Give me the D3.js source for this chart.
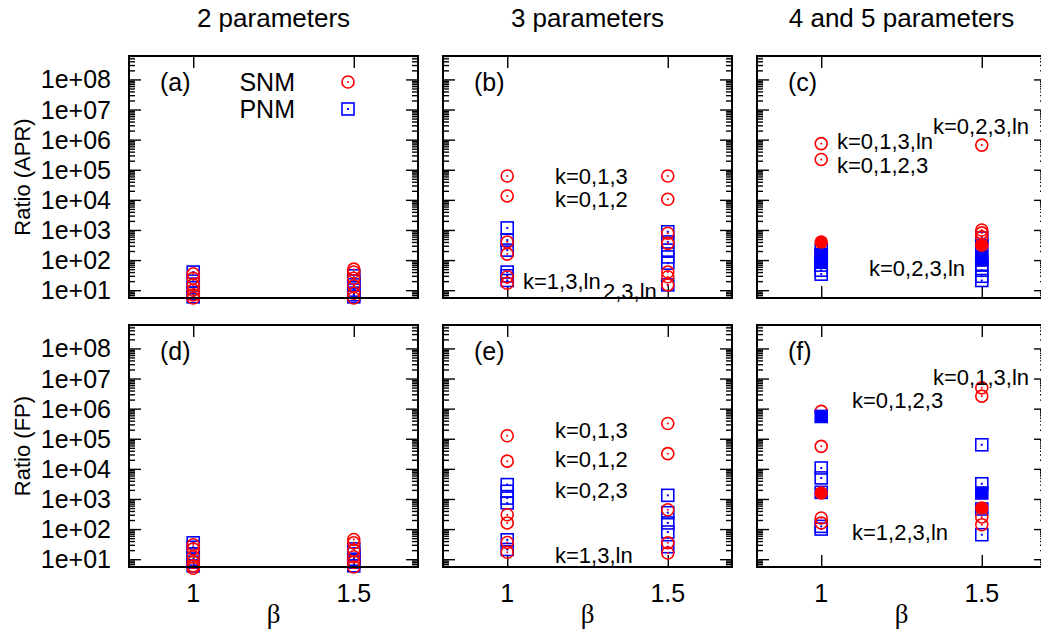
<!DOCTYPE html>
<html><head><meta charset="utf-8">
<script src="https://cdn.jsdelivr.net/npm/d3@7"></script>
<style>
body{margin:0;background:#fff;}
svg{display:block;}
text{font-family:"Liberation Sans",Arial,sans-serif;}
</style></head>
<body>
<svg id="chart" width="1041" height="633"></svg>
<script>
// ---- data ----
const columnTitles = ["2 parameters", "3 parameters", "4 and 5 parameters"];
const rowTitles = ["Ratio (APR)", "Ratio (FP)"];
const panelLabels = ["(a)", "(b)", "(c)", "(d)", "(e)", "(f)"];
const xTicks = [1, 1.5];
const xTickLabels = ["1", "1.5"];
const yTicks = [1e1, 1e2, 1e3, 1e4, 1e5, 1e6, 1e7, 1e8];
const yTickLabels = ["1e+01", "1e+02", "1e+03", "1e+04", "1e+05", "1e+06", "1e+07", "1e+08"];
const xLabel = "β";
const legendNames = ["SNM", "PNM"];

// points: [beta, value]
const snmA = [[1,35],[1,25],[1,15],[1,10],[1,7],[1,5.5],[1.5,50],[1.5,40],[1.5,25],[1.5,14],[1.5,8],[1.5,5.5]];
const pnmA = [[1,40],[1,20],[1,12],[1,8],[1,6],[1.5,30],[1.5,20],[1.5,15],[1.5,10],[1.5,7],[1.5,6]];

const snmB = [[1,6.2e4],[1,1.35e4],[1,400],[1,158],[1,28],[1,17],[1.5,6.2e4],[1.5,1.05e4],[1.5,780],[1.5,360],[1.5,40],[1.5,28],[1.5,15]];
const pnmB = [[1,1170],[1,460],[1,214],[1,40],[1,30],[1,21],[1.5,870],[1.5,400],[1.5,214],[1.5,127],[1.5,79],[1.5,15]];

const snmC = [[1,7.4e5],[1,2.2e5],[1,180],[1,150],[1.5,6.6e5],[1.5,1000],[1.5,800],[1.5,590]];
const pnmC = [[1,214],[1,145],[1,100],[1,68],[1,46],[1,34],[1.5,540],[1.5,310],[1.5,68],[1.5,46],[1.5,29],[1.5,21]];
const snmFilledC = [[1,400],[1.5,310]];
const pnmFilledC = [[1,150],[1,90],[1.5,127],[1.5,100]];

const snmD = [[1,30],[1,22],[1,12],[1,8],[1,6],[1,5],[1.5,45],[1.5,35],[1.5,20],[1.5,12],[1.5,8],[1.5,5.5]];
const pnmD = [[1,35],[1,25],[1,15],[1,10],[1,8],[1,6],[1.5,22],[1.5,15],[1.5,10],[1.5,8],[1.5,6]];

const snmE = [[1,1.26e5],[1,1.8e4],[1,300],[1,160],[1,36],[1,17],[1.5,3.2e5],[1.5,3.2e4],[1.5,440],[1.5,35],[1.5,16]];
const pnmE = [[1,3000],[1,1800],[1,1070],[1,740],[1,44],[1,21],[1.5,1320],[1.5,350],[1.5,160],[1.5,80],[1.5,26]];

const snmF = [[1,8.1e5],[1,5.6e4],[1,234],[1,160],[1.5,4.9e6],[1.5,2.6e6],[1.5,253],[1.5,140]];
const pnmF = [[1,1.07e4],[1,5000],[1,1660],[1,123],[1,100],[1.5,6.3e4],[1.5,3200],[1.5,465],[1.5,65]];
const snmFilledF = [[1,1580],[1.5,500]];
const pnmFilledF = [[1,5.5e5],[1.5,1580]];

const annotB = [["k=0,1,3",555,176],["k=0,1,2",555,199],["k=1,3,ln",523,281],["2,3,ln",603,291]];
const annotC = [["k=0,1,3,ln",837,141],["k=0,1,2,3",837,165],["k=0,2,3,ln",933,126],["k=0,2,3,ln",869,268]];
const annotE = [["k=0,1,3",555,430],["k=0,1,2",555,459],["k=0,2,3",555,490],["k=1,3,ln",555,555]];
const annotF = [["k=0,1,3,ln",933,377],["k=0,1,2,3",852,400],["k=1,2,3,ln",852,532]];

// ---- layout ----
const svg = d3.select("#chart");
const W = 289, H = 242;
const lefts = [129, 443, 757];
const tops = [56, 325];
const FS = 22, TFS = 25, HFS = 26;
const red = "#ff0000", blue = "#0000ff";

const x = d3.scaleLinear().domain([0.8, 1.7]).range([0, W]);
const y = d3.scaleLog().domain([5.5, 6e8]).range([H, 0]);

const minorTicks = [];
for (let e = 0; e <= 8; e++) for (let m = 2; m <= 9; m++) {
  const v = m * Math.pow(10, e);
  if (v >= 5.5 && v <= 6e8) minorTicks.push(v);
}

const panels = [
  {snm: snmA, pnm: pnmA, snmF: [], pnmF: [], ann: []},
  {snm: snmB, pnm: pnmB, snmF: [], pnmF: [], ann: annotB},
  {snm: snmC, pnm: pnmC, snmF: snmFilledC, pnmF: pnmFilledC, ann: annotC},
  {snm: snmD, pnm: pnmD, snmF: [], pnmF: [], ann: []},
  {snm: snmE, pnm: pnmE, snmF: [], pnmF: [], ann: annotE},
  {snm: snmF, pnm: pnmF, snmF: snmFilledF, pnmF: pnmFilledF, ann: annotF}
];

function drawCircle(g, cx, cy, filled) {
  if (filled) {
    g.append("circle").attr("cx", cx).attr("cy", cy).attr("r", 6.8).attr("fill", red);
  } else {
    g.append("circle").attr("cx", cx).attr("cy", cy).attr("r", 6).attr("fill", "none")
      .attr("stroke", red).attr("stroke-width", 1.6);
    g.append("circle").attr("cx", cx).attr("cy", cy).attr("r", 1).attr("fill", red);
  }
}
function drawSquare(g, cx, cy, filled) {
  const s = 12;
  if (filled) {
    g.append("rect").attr("x", cx - 6.8).attr("y", cy - 6.8).attr("width", 13.6).attr("height", 13.6).attr("fill", blue);
  } else {
    g.append("rect").attr("x", cx - s/2).attr("y", cy - s/2).attr("width", s).attr("height", s)
      .attr("fill", "none").attr("stroke", blue).attr("stroke-width", 1.6);
    g.append("rect").attr("x", cx - 1).attr("y", cy - 1).attr("width", 2).attr("height", 2).attr("fill", blue);
  }
}

panels.forEach((p, i) => {
  const col = i % 3, row = Math.floor(i / 3);
  const g = svg.append("g").attr("transform", `translate(${lefts[col]},${tops[row]})`);

  const axL = d3.axisRight(y).tickValues(yTicks).tickSize(12).tickFormat("");
  const axLm = d3.axisRight(y).tickValues(minorTicks).tickSize(6).tickFormat("");
  const axR = d3.axisLeft(y).tickValues(yTicks).tickSize(12).tickFormat("");
  const axRm = d3.axisLeft(y).tickValues(minorTicks).tickSize(6).tickFormat("");
  const axT = d3.axisBottom(x).tickValues(xTicks).tickSize(12).tickFormat("");
  const axB = d3.axisTop(x).tickValues(xTicks).tickSize(12).tickFormat("");
  [[axL, 0, 0], [axLm, 0, 0], [axR, W, 0], [axRm, W, 0], [axT, 0, 0], [axB, 0, H]].forEach(([a, tx, ty]) => {
    const ag = g.append("g").attr("transform", `translate(${tx},${ty})`).call(a);
    ag.select(".domain").remove();
    ag.selectAll("line").attr("stroke", "#000").attr("stroke-width", 1.4);
  });

  if (col === 0) {
    yTicks.forEach((v, k) => {
      g.append("text").attr("x", -18).attr("y", y(v)).attr("dy", "0.36em")
        .attr("text-anchor", "end").attr("font-size", TFS).text(yTickLabels[k]);
    });
  }
  if (row === 1) {
    xTicks.forEach((v, k) => {
      g.append("text").attr("x", x(v)).attr("y", H + 35).attr("text-anchor", "middle")
        .attr("font-size", TFS).text(xTickLabels[k]);
    });
    g.append("text").attr("x", W / 2).attr("y", H + 56).attr("text-anchor", "middle")
      .attr("font-size", 27).style("font-family", "'Liberation Serif','DejaVu Serif',serif").text(xLabel);
  }

  g.append("text").attr("x", 31).attr("y", 26).attr("dy", "0.36em").attr("font-size", TFS).text(panelLabels[i]);

  p.pnm.forEach(d => drawSquare(g, x(d[0]), y(d[1]), false));
  p.snm.forEach(d => drawCircle(g, x(d[0]), y(d[1]), false));
  p.pnmF.forEach(d => drawSquare(g, x(d[0]), y(d[1]), true));
  p.snmF.forEach(d => drawCircle(g, x(d[0]), y(d[1]), true));

  g.append("rect").attr("x", 0).attr("y", 0).attr("width", W).attr("height", H)
    .attr("fill", "none").attr("stroke", "#000").attr("stroke-width", 2);

  p.ann.forEach(a => {
    g.append("text").attr("x", a[1] - lefts[col]).attr("y", a[2] - tops[row]).attr("dy", "0.36em")
      .attr("font-size", FS).text(a[0]);
  });

  if (i === 0) {
    g.append("text").attr("x", 166).attr("y", 26).attr("dy", "0.36em").attr("text-anchor", "end").attr("font-size", TFS).text(legendNames[0]);
    g.append("text").attr("x", 166).attr("y", 53).attr("dy", "0.36em").attr("text-anchor", "end").attr("font-size", TFS).text(legendNames[1]);
    drawCircle(g, 219, 26, false);
    drawSquare(g, 219, 53, false);
  }
});

columnTitles.forEach((t, c) => {
  svg.append("text").attr("x", lefts[c] + W / 2).attr("y", 18).attr("dy", "0.36em")
    .attr("text-anchor", "middle").attr("font-size", HFS).text(t);
});
rowTitles.forEach((t, r) => {
  svg.append("text").attr("transform", `translate(22,${tops[r] + H / 2}) rotate(-90)`)
    .attr("dy", "0.36em").attr("text-anchor", "middle").attr("font-size", FS).text(t);
});
</script>
</body></html>
